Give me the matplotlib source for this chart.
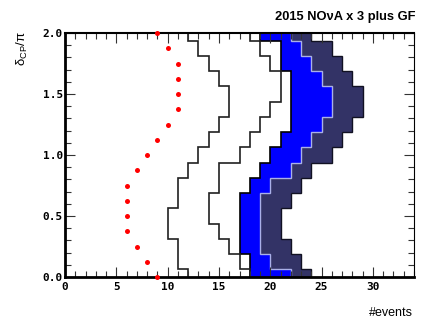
import numpy as np
import matplotlib
matplotlib.use("Agg")
import matplotlib.pyplot as plt

plt.rcParams["mathtext.default"] = "regular"

# bins of delta_CP/pi, 17 bins centred on k*0.125
bin_centers = np.arange(17) * 0.125
bin_edges = np.append(bin_centers - 0.0625, 2.0625)

# red dots
dots = [9, 8, 7, 6, 6, 6, 6, 7, 8, 9, 10, 11, 11, 11, 11, 10, 9]
# outline histograms
hist_a = [12, 11, 11, 10, 10, 11, 11, 12, 13, 14, 15, 16, 16, 15, 14, 13, 12]
hist_b = [18, 17, 16, 15, 14, 14, 15, 15, 17, 18, 19, 20, 21, 21, 20, 19, 18]
# band edges: white (inner), blue, navy (outer)
band_lo = [18, 18, 17, 17, 17, 17, 18, 19, 20, 21, 22, 22, 22, 22, 21, 21, 19]
band_mid = [22, 20, 19, 19, 19, 19, 20, 22, 23, 24, 25, 26, 26, 25, 24, 23, 22]
band_hi = [24, 23, 22, 21, 21, 22, 23, 24, 26, 27, 28, 29, 29, 28, 27, 26, 24]

fig = plt.figure(figsize=(4.36, 3.27), dpi=100)
ax = fig.add_axes([65 / 436, 50 / 327, 349 / 436, 244 / 327])

# filled bands, drawn outer first
ax.stairs(band_hi, bin_edges, orientation="horizontal", baseline=0, fill=True,
          color="#333366", lw=0)
ax.stairs(band_hi, bin_edges, orientation="horizontal", baseline=None,
          color="#111122", lw=1.0)
ax.stairs(band_mid, bin_edges, orientation="horizontal", baseline=0, fill=True,
          color="#0000ff", lw=0)
ax.stairs(band_mid, bin_edges, orientation="horizontal", baseline=None,
          color="#aab0e8", lw=1.0)
ax.stairs(band_lo, bin_edges, orientation="horizontal", baseline=0, fill=True,
          color="white", lw=0)
ax.stairs(band_lo, bin_edges, orientation="horizontal", baseline=None,
          color="black", lw=1.2)

# outline histograms
ax.stairs(hist_a, bin_edges, orientation="horizontal", baseline=None,
          color="#202020", lw=1.2)
ax.stairs(hist_b, bin_edges, orientation="horizontal", baseline=None,
          color="#202020", lw=1.2)

ax.plot(dots, bin_centers, "o", color="red", ms=3.6, mec="none", clip_on=False, zorder=8)

ax.set_xlim(0, 34)
ax.set_ylim(0, 2)
ax.set_xticks(np.arange(0, 31, 5))
ax.set_xticks(np.arange(0, 35, 1), minor=True)
ax.set_yticks(np.arange(0, 2.01, 0.5))
ax.set_yticks(np.arange(0, 2.01, 0.1), minor=True)
ax.set_yticklabels(["0.0", "0.5", "1.0", "1.5", "2.0"])
ax.tick_params(which="both", direction="in", top=True, right=True, width=0.8,
               color="#333333")
ax.tick_params(which="major", length=7)
ax.tick_params(which="minor", length=4)
ax.tick_params(axis="y", pad=1.5)
ax.tick_params(axis="x", pad=3.5)
for lab in ax.get_xticklabels() + ax.get_yticklabels():
    lab.set_family("DejaVu Sans Mono")
    lab.set_fontweight("bold")
    lab.set_fontsize(8)

ax.spines["left"].set_linewidth(2)
ax.spines["bottom"].set_linewidth(2)
ax.spines["top"].set_linewidth(1.5)
ax.spines["right"].set_linewidth(0.8)
for s in ax.spines.values():
    s.set_zorder(6)

fig.text(415 / 436, 1 - 17 / 327, "2015 NO\u03bdA x 3 plus GF", ha="right", va="center",
         fontsize=9.3, fontweight="bold", family="Liberation Sans")
fig.text(413 / 436, 1 - 313 / 327, "#events", ha="right", va="center",
         fontsize=9, family="Liberation Sans")
fig.text(22 / 436, 1 - 31 / 327, "\u03b4$_{CP}$/\u03c0", ha="center", va="top",
         rotation=90, fontsize=9.5, family="Liberation Sans")

fig.savefig("out.png", dpi=100)
